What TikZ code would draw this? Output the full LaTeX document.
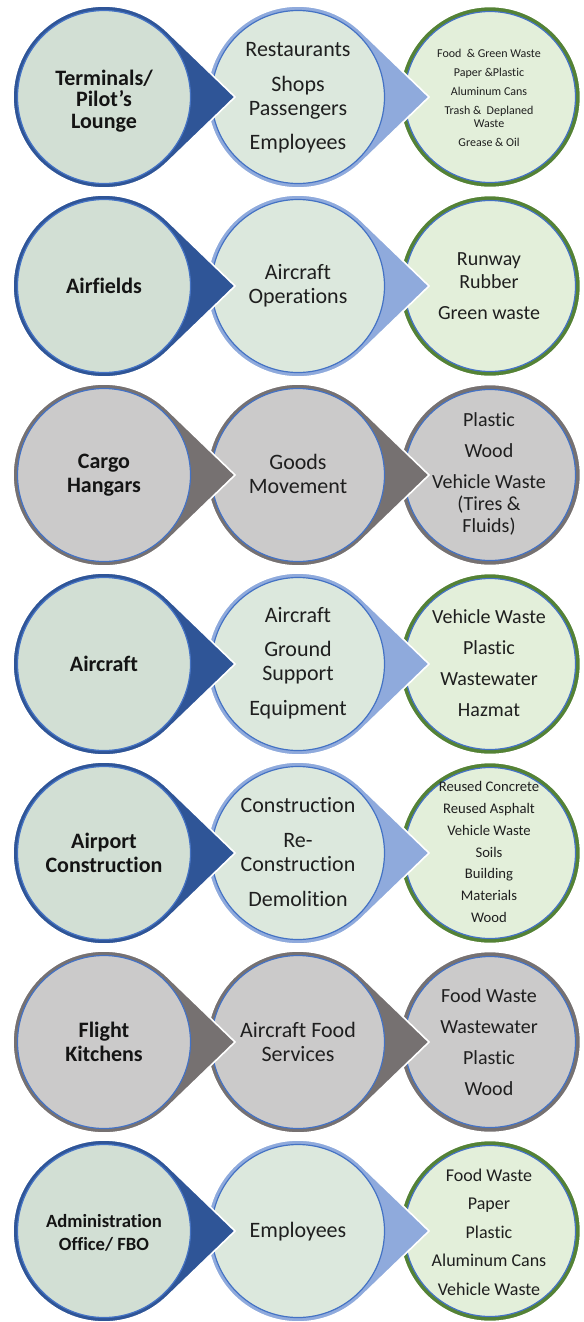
\documentclass[tikz,border=0pt]{standalone}
\usepackage{fontspec}
\setmainfont{Carlito}[Ligatures={TeX,NoCommon}]
\usepackage{tikz}
\usepackage{xcolor}

\definecolor{ciemny}{HTML}{2F5597}
\definecolor{jasny}{HTML}{8FAADC}
\definecolor{zielony}{HTML}{548235}
\definecolor{szary}{HTML}{767171}
\definecolor{obrys}{HTML}{4472C4}
\definecolor{tlo1}{HTML}{D2DFD4}
\definecolor{tlo2}{HTML}{DCE8DD}
\definecolor{tlo3}{HTML}{E3EFDA}
\definecolor{tloS}{HTML}{CBCACA}

% kropla: kolo z ostrzem w prawo (#1 = x srodka, #2 = obwodka, #3 = wnetrze)
\newcommand{\kropla}[3]{%
  \filldraw[fill=#2, draw=white, line width=1.2pt]
    (#1,0) ++(46:91) arc[start angle=46, end angle=314, radius=91] -- (#1+131,0) -- cycle;
  \filldraw[fill=#3, draw=obrys, line width=0.9pt] (#1,0) circle[radius=86.5];}
% zwykle kolo na koncu wiersza
\newcommand{\kolo}[3]{%
  \filldraw[fill=#2, draw=white, line width=1.2pt] (#1,0) circle[radius=90.5];
  \filldraw[fill=#3, draw=obrys, line width=0.9pt] (#1,0) circle[radius=85.5];}

\begin{document}
\begin{tikzpicture}[
  x=0.75pt, y=0.75pt,
  lbl1/.style={font=\fontsize{16.5}{18}\selectfont\bfseries, align=center, text=black!92},
  lbl2/.style={font=\fontsize{16.5}{18}\selectfont, align=center, text=black!88},
  lbl3/.style={align=center, text=black!88},
]
\useasboundingbox (0,0) rectangle (583,-1322);
\fill[white] (0,0) rectangle (583,-1322);
% --- ksztalty: wiersze niebieskie ---
\foreach \y in {97,286,664,853,1231} {
  \begin{scope}[shift={(0,-\y)}]
    \kolo{490}{zielony}{tlo3}
    \kropla{298}{jasny}{tlo2}
    \kropla{104}{ciemny}{tlo1}
  \end{scope}
}
% --- ksztalty: wiersze szare ---
\foreach \y in {475,1042} {
  \begin{scope}[shift={(0,-\y)}]
    \kolo{490}{szary}{tloS}
    \kropla{298}{szary}{tloS}
    \kropla{104}{szary}{tloS}
  \end{scope}
}
% ===================== KOLUMNA 1 =====================
\node[lbl1, font=\fontsize{16.5}{16.2}\selectfont\bfseries] (obiekt1) at (104,-101) {Terminals/\\ Pilot's\\ Lounge};
\node[lbl1] (obiekt2) at (104,-286) {Airfields};
\node[lbl1] (obiekt3) at (104,-475) {Cargo\\ Hangars};
\node[lbl1] (obiekt4) at (104,-664) {Aircraft};
\node[lbl1] (obiekt5) at (104,-853) {Airport\\ Construction};
\node[lbl1] (obiekt6) at (104,-1042) {Flight\\ Kitchens};
\node[lbl1, font=\fontsize{14}{17}\selectfont\bfseries] (obiekt7) at (104,-1233) {Administration\\ Office/ FBO};
% ===================== KOLUMNA 2 =====================
\node[lbl2] (dzial1) at (298,-98) {Restaurants\\[8pt] Shops\\ Passengers\\[8pt] Employees};
\node[lbl2] (dzial2) at (298,-286) {Aircraft\\ Operations};
\node[lbl2] (dzial3) at (298,-474) {Goods\\ Movement};
\node[lbl2] (dzial4) at (298,-663) {Aircraft\\[8pt] Ground\\ Support\\[8pt] Equipment};
\node[lbl2] (dzial5) at (298,-852) {Construction\\[8pt] Re-\\ Construction\\[8pt] Demolition};
\node[lbl2] (dzial6) at (298,-1042) {Aircraft Food\\ Services};
\node[lbl2] (dzial7) at (298,-1232) {Employees};
% ===================== KOLUMNA 3 =====================
\node[lbl3, font=\fontsize{9}{9.3}\selectfont] (odpady1) at (489,-98)
  {Food\ \ \& Green Waste\\[5pt] Paper \&Plastic\\[5pt] Aluminum Cans\\[5pt] Trash \&\ \ Deplaned\\ Waste\\[5pt] Grease \& Oil};
\node[lbl3, font=\fontsize{15}{17.25}\selectfont] (odpady2) at (489,-286) {Runway\\ Rubber\\[6pt] Green waste};
\node[lbl3, font=\fontsize{15}{16.5}\selectfont] (odpady3) at (489,-474) {Plastic\\[6.75pt] Wood\\[6.75pt] Vehicle Waste\\ (Tires \&\\ Fluids)};
\node[lbl3, font=\fontsize{15}{16.5}\selectfont] (odpady4) at (489,-663) {Vehicle Waste\\[6.75pt] Plastic\\[6.75pt] Wastewater\\[6.75pt] Hazmat};
\node[lbl3, font=\fontsize{11}{16.3}\selectfont] (odpady5) at (489,-852) {Reused Concrete\\ Reused Asphalt\\ Vehicle Waste\\ Soils\\ Building\\ Materials\\ Wood};
\node[lbl3, font=\fontsize{15}{16.5}\selectfont] (odpady6) at (489,-1042) {Food Waste\\[6.75pt] Wastewater\\[6.75pt] Plastic\\[6.75pt] Wood};
\node[lbl3, font=\fontsize{13.5}{21.4}\selectfont] (odpady7) at (489,-1232) {Food Waste\\ Paper\\ Plastic\\ Aluminum Cans\\ Vehicle Waste};
\end{tikzpicture}
\end{document}
